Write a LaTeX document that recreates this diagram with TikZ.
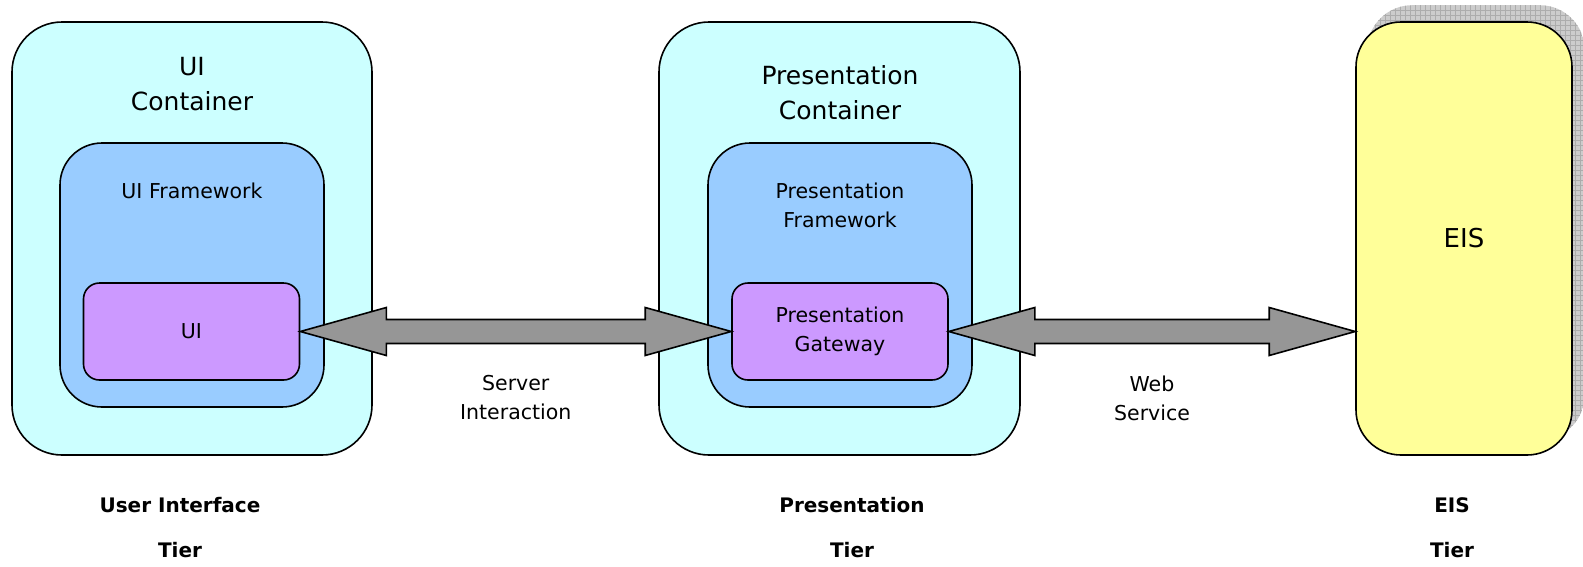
\documentclass[tikz,border=0pt]{standalone}
\usepackage{fontspec}
\setmainfont{DejaVu Sans}
\usepackage{tikz}
\usetikzlibrary{positioning,calc,backgrounds}
\definecolor{Aqua}{HTML}{CCFFFF}
\definecolor{SkyBlue}{HTML}{99CCFF}
\definecolor{Lilac}{HTML}{CC99FF}
\definecolor{PaleYellow}{HTML}{FFFF99}
\definecolor{ArrowGray}{HTML}{969696}

\begin{document}
\begin{tikzpicture}[x=1pt, y=-1pt, line width=1.6pt, font=\fontsize{20.5}{29}\selectfont]
\tikzset{box/.style={draw=black, line width=1.6pt, align=center, inner sep=0pt}, container/.style={box, fill=Aqua, rounded corners=50pt, minimum height=433pt}, fwbox/.style={box, fill=SkyBlue, rounded corners=42pt, minimum width=264pt, minimum height=264pt}, comp/.style={box, fill=Lilac, rounded corners=16pt, minimum width=216pt, minimum height=97pt}, eisbox/.style={box, fill=PaleYellow, rounded corners=45pt, minimum width=216pt, minimum height=433pt, font=\fontsize{26}{30}\selectfont}, titletext/.style={align=center, inner sep=0pt, anchor=north, font=\fontsize{25}{35}\selectfont}, lbl/.style={align=center, inner sep=0pt, anchor=north}, tier/.style={align=center, inner sep=0pt, anchor=north, font=\fontsize{20}{45}\selectfont\bfseries}, fat/.style={draw=black, line width=1.6pt, fill=ArrowGray, line join=miter}}
\useasboundingbox (0,0) rectangle (1583,566);
% containers
\node[container, minimum width=360pt] (uic) at (192,238.5) {};
\node[container, minimum width=361pt] (pc) at (839.5,238.5) {};
\node[eisbox] (eis) at (1464,238.5) {EIS};
\begin{pgfonlayer}{background}
\begin{scope}
\clip[rounded corners=45pt] ($(eis.north west)+(12,-16)$) rectangle ($(eis.south east)+(12,-16)$);
\fill[gray!40] ($(eis.north west)+(12,-16)$) rectangle ($(eis.south east)+(12,-16)$);
\draw[gray!65, line width=0.5pt, step=5pt] ($(eis.north west)+(12,-16)$) grid ($(eis.south east)+(12,-16)$);
\end{scope}
\end{pgfonlayer}
\node[titletext] (uititle) at (192,57) {UI\\Container};
\node[titletext] (ptitle) at (840,65) {Presentation\\Container};
% frameworks
\node[fwbox] (uifw) at (192,275) {};
\node[fwbox] (pfw) at (840,275) {};
\node[lbl] (uifwlbl) at (192,183) {UI Framework};
\node[lbl] (pfwlbl) at (840,183) {Presentation\\Framework};
% components
\node[comp] (ui) at (191.5,331.5) {UI};
\node[comp] (gw) at (840,331.5) {Presentation\\Gateway};
\coordinate (eisin) at (eis.west |- gw.east);
% fat double arrows
\draw[fat] (ui.east) -- ++(86,-24) -- ++(0,12) -- ($(gw.west)+(-86,-12)$) -- ++(0,-12) -- (gw.west) -- ++(-86,24) -- ++(0,-12) -- ($(ui.east)+(86,12)$) -- ++(0,12) -- cycle;
\draw[fat] (gw.east) -- ++(86,-24) -- ++(0,12) -- ($(eisin)+(-86,-12)$) -- ++(0,-12) -- (eisin) -- ++(-86,24) -- ++(0,-12) -- ($(gw.east)+(86,12)$) -- ++(0,12) -- cycle;
\node[lbl] (srv) at ($(ui.east)!0.5!(gw.west)+(0,44)$) {Server\\Interaction};
\node[lbl] (web) at ($(gw.east)!0.5!(eisin)+(0,44)$) {Web\\Service};
% tiers
\node[tier] (uitier) at (180,497) {User Interface\\Tier};
\node[tier] (ptier) at (852,497) {Presentation\\Tier};
\node[tier] (eistier) at (1452,497) {EIS\\Tier};
\end{tikzpicture}
\end{document}
